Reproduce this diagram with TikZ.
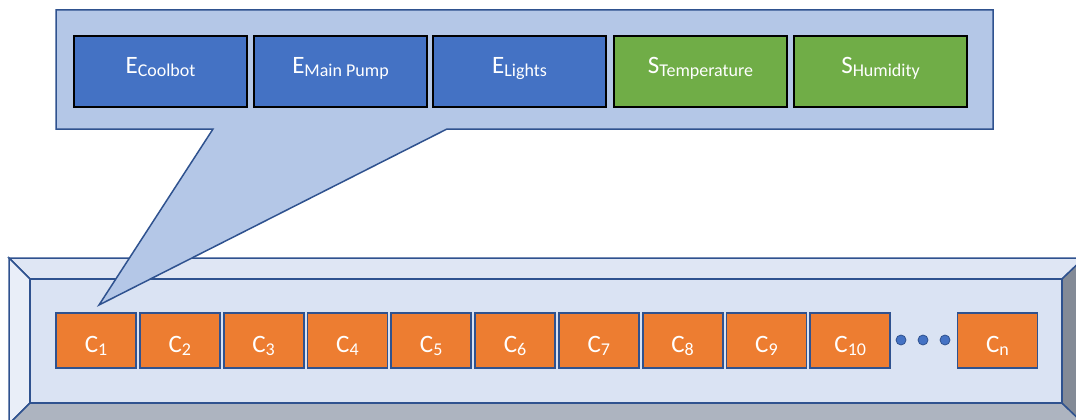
\documentclass[tikz,border=0pt]{standalone}
\usepackage{fontspec}
\setmainfont{Carlito}
\definecolor{edge}{HTML}{2F528F}
\definecolor{calloutfill}{HTML}{B4C7E7}
\definecolor{eblue}{HTML}{4472C4}
\definecolor{sgreen}{HTML}{70AD47}
\definecolor{corange}{HTML}{ED7D31}
\definecolor{face}{HTML}{DAE3F3}
\definecolor{bevtop}{HTML}{DFE6F4}
\definecolor{bevleft}{HTML}{E9EEF8}
\definecolor{bevbottom}{HTML}{ADB4C0}
\definecolor{bevright}{HTML}{838A96}
\newcommand\subtxt[1]{\raisebox{-3pt}{\fontsize{18}{18}\selectfont #1}}
\tikzset{
  x=1pt, y=-1pt,
  panel/.style={draw=edge, line width=1.5pt, line join=miter},
  topbox/.style={draw=black, line width=2pt, minimum width=173pt, minimum height=71pt,
    inner sep=0pt, text=white, font=\fontsize{25}{25}\selectfont,
    text height=20pt, text depth=15pt},
  ebox/.style={topbox, fill=eblue},
  sbox/.style={topbox, fill=sgreen},
  cbox/.style={draw=edge, line width=1.8pt, fill=corange, minimum width=80pt, minimum height=55pt,
    inner sep=0pt, text=white, font=\fontsize{25}{25}\selectfont,
    text height=30pt, text depth=6pt},
  dot/.style={circle, fill=eblue, draw=edge, line width=0.8pt, minimum size=10pt, inner sep=0pt}
}
\begin{document}
\begin{tikzpicture}
\useasboundingbox (0,0) rectangle (1076,420);
\begin{scope}
\clip (0,0) rectangle (1076,420);
% bevelled tray
\filldraw[panel, fill=bevtop] (9,258) -- (1084,258) -- (1062,279) -- (30,279) -- cycle;
\filldraw[panel, fill=bevleft] (9,258) -- (30,279) -- (30,403) -- (9,424) -- cycle;
\filldraw[panel, fill=bevbottom] (9,424) -- (30,403) -- (1062,403) -- (1084,424) -- cycle;
\filldraw[panel, fill=bevright] (1084,258) -- (1062,279) -- (1062,403) -- (1084,424) -- cycle;
\filldraw[panel, fill=face] (30,279) rectangle (1062,403);
\end{scope}
% containers in the tray
\foreach \i in {1,...,10} {
  \node[cbox] (c\i) at ({56+(\i-1)*83.8+40},340.5) {C\subtxt{\i}};
}
\node[cbox] (cn) at (997.5,340.5) {C\subtxt{n}};
\node[dot] (d1) at (901,340) {};
\node[dot] (d2) at (923,340) {};
\node[dot] (d3) at (945,340) {};
% callout pointing at the first container
\filldraw[panel, fill=calloutfill] (56,10) -- (993,10) -- (993,129) -- (447,129) -- (99,305)
  -- (213,129) -- (56,129) -- cycle;
\node[ebox] (e1) at (160.5,71.5) {E\subtxt{Coolbot}};
\node[ebox] (e2) at (340.5,71.5) {E\subtxt{Main Pump}};
\node[ebox] (e3) at (519.5,71.5) {E\subtxt{Lights}};
\node[sbox] (s1) at (700.5,71.5) {S\subtxt{Temperature}};
\node[sbox] (s2) at (880.5,71.5) {S\subtxt{Humidity}};
\end{tikzpicture}
\end{document}
